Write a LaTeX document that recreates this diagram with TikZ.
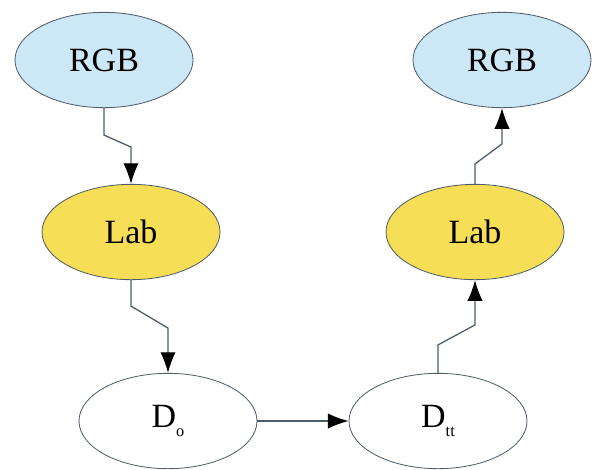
\documentclass[tikz,border=0pt]{standalone}
\usepackage{fontspec}
\setmainfont{Liberation Serif}
\usetikzlibrary{shapes.geometric,arrows.meta}
\definecolor{rgbfill}{RGB}{204,232,246}
\definecolor{labfill}{RGB}{246,222,86}
\definecolor{rimgray}{RGB}{78,92,104}
\newcommand{\lowsub}[1]{\raisebox{-0.55ex}{\fontsize{14}{16}\selectfont #1}}
\begin{document}
\begin{tikzpicture}[x=0.03cm,y=-0.03cm,
    space/.style={ellipse,draw=rimgray,line width=0.7pt,inner sep=0pt,
        minimum width=5.34cm,minimum height=2.86cm,font=\fontsize{29}{34}\selectfont},
    flow/.style={draw=rimgray,line width=1.1pt,-{Latex[length=0.62cm,width=0.46cm,color=black]}}]
    \useasboundingbox (0,0) rectangle (593,469);
    % forward conversion on the left
    \node[space,fill=rgbfill] (rgbL) at (104,60) {RGB};
    \node[space,fill=labfill] (labL) at (131,232) {Lab};
    \node[space,fill=white] (dO) at (168,421) {D\lowsub{o}};
    % back conversion on the right
    \node[space,fill=white] (dT) at (438,421) {D\lowsub{tt}};
    \node[space,fill=labfill] (labR) at (475,232) {Lab};
    \node[space,fill=rgbfill] (rgbR) at (502,60) {RGB};
    % connectors
    \draw[flow] (rgbL.south) -- ++(0,27) -- ++(27,12) -- (labL.north);
    \draw[flow] (labL.south) -- ++(0,26) -- ++(37,22) -- (dO.north);
    \draw[flow] (dO.east) -- (dT.west);
    \draw[flow] (dT.north) -- ++(0,-28) -- ++(37,-20) -- (labR.south);
    \draw[flow] (labR.north) -- ++(0,-20) -- ++(27,-20) -- (rgbR.south);
\end{tikzpicture}
\end{document}
